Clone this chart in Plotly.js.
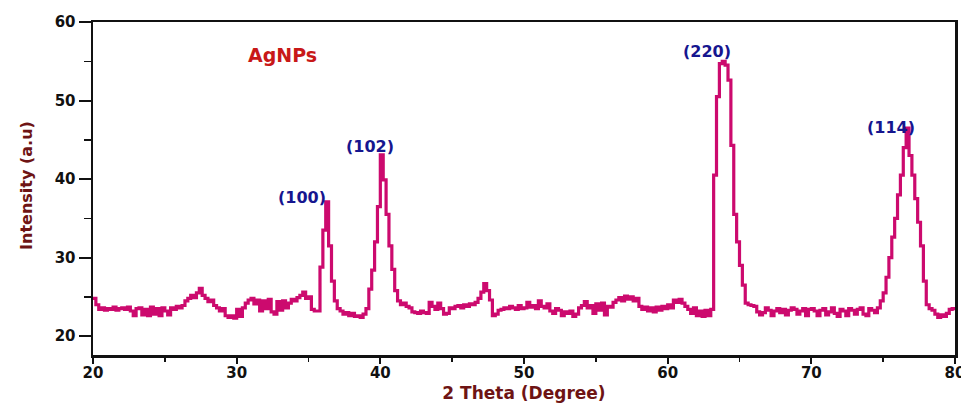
<!DOCTYPE html>
<html>
<head>
<meta charset="utf-8">
<script src="https://cdn.plot.ly/plotly-3.0.1.min.js"></script>
<style>html,body{margin:0;padding:0;background:#fff;}#chart{width:961px;height:403px;}</style>
</head>
<body>
<div id="chart"></div>
<script>
// 2-theta start and step (degrees); each intensity covers [x, x+step]
const thetaStart = 20.0;
const thetaStep = 0.2;
// Intensity (a.u.), one value per 0.2 degree
const intensity = [
  24.8, 24.0, 23.4, 23.6, 23.3, 23.5, 23.4, 23.7, 23.3, 23.5,
  23.6, 23.4, 23.7, 23.2, 22.6, 23.5, 23.6, 22.7, 23.4, 22.6,
  23.7, 22.8, 23.5, 22.6, 23.6, 23.2, 22.7, 23.6, 23.4, 23.8,
  23.6, 23.9, 24.5, 24.8, 25.2, 24.9, 25.5, 26.1, 25.2, 24.8,
  24.4, 24.6, 23.9, 23.6, 23.2, 23.5, 22.6, 22.4, 22.6, 22.3,
  23.4, 22.5, 23.6, 24.2, 24.6, 24.8, 24.1, 24.6, 23.2, 24.5,
  23.5, 24.7, 23.1, 22.8, 24.4, 23.3, 24.5, 23.6, 24.2, 24.7,
  24.5, 24.9, 25.2, 25.6, 24.8, 25.0, 23.4, 23.2, 23.2, 28.8,
  33.5, 37.1, 31.5, 27.0, 24.5, 23.5, 23.2, 22.8, 23.0, 22.6,
  22.9, 22.5, 22.6, 22.4, 22.8, 23.5, 26.0, 28.4, 32.0, 36.5,
  43.1, 39.9, 35.5, 31.5, 28.5, 25.8, 24.5, 24.0, 24.2, 23.8,
  23.6, 23.1, 23.0, 22.9, 23.2, 23.0, 22.9, 24.3, 23.8, 23.4,
  24.2, 23.5, 22.8, 22.9, 23.6, 23.5, 23.8, 23.9, 23.6, 24.0,
  23.8, 24.1, 24.0, 24.3, 24.8, 25.6, 26.7, 25.8, 24.6, 22.6,
  22.8, 23.3, 23.4, 23.6, 23.5, 23.8, 23.6, 23.4, 23.9, 23.5,
  23.6, 24.3, 23.7, 23.9, 23.5, 24.5, 23.8, 23.6, 24.1, 23.2,
  22.9, 23.5, 23.3, 22.6, 23.1, 22.9, 23.2, 22.5, 22.8, 23.6,
  23.9, 24.4, 23.6, 23.9, 22.9, 24.1, 23.3, 24.2, 22.7, 23.8,
  23.7, 24.3, 24.6, 24.9, 24.5, 25.1, 24.7, 25.0, 24.5, 24.8,
  23.8, 23.4, 23.7, 23.2, 23.6, 23.1, 23.7, 23.3, 23.8, 23.5,
  24.0, 23.6, 24.6, 24.3, 24.7, 24.2, 23.8, 23.4, 22.9, 23.6,
  22.6, 23.2, 22.5, 23.3, 22.6, 23.4, 40.5, 50.5, 54.7, 55.0,
  54.5, 52.6, 44.3, 35.5, 32.0, 29.0, 26.5, 24.2, 24.0, 23.9,
  23.8, 23.1, 22.7, 23.0, 23.6, 23.3, 22.6, 23.2, 23.5, 23.0,
  23.4, 22.7, 23.3, 23.6, 23.4, 22.8, 23.2, 23.5, 22.6, 23.4,
  23.5, 23.2, 22.6, 23.3, 23.5, 22.7, 23.1, 23.6, 22.9, 22.5,
  23.4, 23.2, 22.6, 23.5, 23.3, 22.8, 23.4, 23.6, 22.8, 22.6,
  23.5, 23.3, 23.0, 23.6, 24.5, 25.5, 27.5, 30.0, 32.6, 35.0,
  38.0, 40.5, 44.0, 46.5, 43.0, 40.5, 37.5, 34.5, 31.5, 27.0,
  24.0, 23.5, 23.3, 22.8, 22.4, 22.7, 22.5, 22.9, 23.4, 23.5,
  23.5
];
const twoTheta = intensity.map((_, i) => +(thetaStart + i * thetaStep).toFixed(2));

// Peak labels
const peakLabels = ['(100)', '(102)', '(220)', '(114)'];
const peakLabelX = [34.54, 39.28, 62.73, 75.53];
const peakLabelY = [37.7, 44.1, 56.2, 46.6];

const sampleName = 'AgNPs';
const xTickVals = [20, 30, 40, 50, 60, 70, 80];
const yTickVals = [20, 30, 40, 50, 60];

const tickFont = {family: 'DejaVu Sans', size: 15, color: '#111', weight: 'bold'};
const titleFont = {family: 'DejaVu Sans', size: 17, color: '#6e1414', weight: 'bold'};

const traces = [{
  x: twoTheta,
  y: intensity,
  type: 'scatter',
  mode: 'lines',
  line: {color: '#cc0a6e', width: 3.2, shape: 'hv'},
  hoverinfo: 'x+y'
}];

const annotations = peakLabels.map((t, i) => ({
  x: peakLabelX[i], y: peakLabelY[i], xref: 'x', yref: 'y',
  text: t, showarrow: false,
  font: {family: 'DejaVu Sans', size: 16, color: '#16168f', weight: 'bold'}
}));
annotations.push({
  x: 33.2, y: 55.8, xref: 'x', yref: 'y', text: sampleName, showarrow: false,
  font: {family: 'DejaVu Sans', size: 19, color: '#c81818', weight: 'bold'}
});
// y-axis title, placed like the reference (close to the tick labels)
annotations.push({
  x: -0.078, y: 0.51, xref: 'paper', yref: 'paper', xanchor: 'center', yanchor: 'middle',
  text: 'Intensity (a.u)', textangle: -90, showarrow: false,
  font: {family: 'DejaVu Sans', size: 16, color: '#6e1414', weight: 'bold'}
});

const layout = {
  width: 961, height: 403,
  margin: {l: 93, r: 6, t: 22, b: 48},
  paper_bgcolor: '#fff', plot_bgcolor: '#fff',
  showlegend: false,
  xaxis: {
    range: [20, 80], tickvals: xTickVals, ticktext: xTickVals.map(String),
    showgrid: false, zeroline: false,
    showline: true, linecolor: '#111', linewidth: 2.5, mirror: true,
    ticks: 'outside', ticklen: 6, tickwidth: 2, tickcolor: '#111',
    ticklabeloverflow: 'allow', ticklabelstandoff: -4,
    minor: {dtick: 5, tick0: 25, ticks: 'outside', ticklen: 4, tickwidth: 1.5, tickcolor: '#111', showgrid: false},
    tickfont: tickFont,
    title: {text: '2 Theta (Degree)', standoff: 8, font: titleFont}
  },
  yaxis: {
    range: [17.6, 60], tickvals: yTickVals, ticktext: yTickVals.map(String),
    showgrid: false, zeroline: false,
    showline: true, linecolor: '#111', linewidth: 2.5, mirror: true,
    ticks: 'outside', ticklen: 12, tickwidth: 2, tickcolor: '#111',
    minor: {dtick: 5, tick0: 25, ticks: 'outside', ticklen: 7, tickwidth: 1.5, tickcolor: '#111', showgrid: false},
    tickfont: tickFont
  },
  annotations: annotations
};

Plotly.newPlot('chart', traces, layout, {displayModeBar: false, staticPlot: true});
</script>
</body>
</html>
